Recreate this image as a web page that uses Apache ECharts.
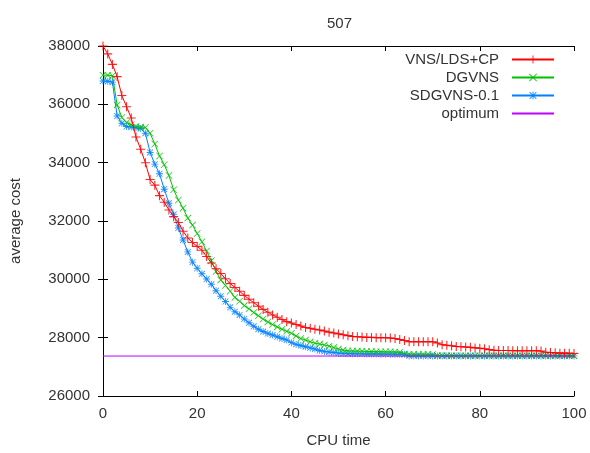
<!DOCTYPE html>
<html>
<head>
<meta charset="utf-8">
<script src="https://cdn.jsdelivr.net/npm/echarts@6/dist/echarts.min.js"></script>
<style>
  html, body { margin: 0; padding: 0; background: #fff; }
  #chart { width: 590px; height: 453px; }
</style>
</head>
<body>
<div id="chart"></div>
<script>
// data, one value per CPU time unit 0..100
var cpuTime = [];
for (var t = 0; t <= 100; t++) cpuTime.push(t);

var vnsLdsCp = [
  38000, 37730, 37370, 36950, 36300, 35920, 35530, 34880, 34460, 34000,
  33420, 33230, 32870, 32640, 32380, 32150, 31950, 31650, 31420, 31260,
  31130, 31000, 30780, 30560, 30360, 30200, 30020, 29860, 29720, 29590,
  29450, 29320, 29200, 29080, 28970, 28870, 28780, 28700, 28620, 28550,
  28500, 28450, 28400, 28350, 28320, 28290, 28260, 28230, 28190, 28160,
  28130, 28100, 28070, 28040, 28030, 28020, 28010, 28010, 28000, 28000,
  28000, 27990, 27970, 27940, 27900, 27860, 27860, 27860, 27860, 27860,
  27860, 27820, 27760, 27740, 27720, 27700, 27690, 27680, 27670, 27650,
  27640, 27620, 27590, 27570, 27560, 27560, 27560, 27555, 27550, 27550,
  27550, 27550, 27550, 27540, 27500, 27490, 27480, 27470, 27470, 27465,
  27460
];

var dgvns = [
  37000, 37000, 36980, 35980, 35550, 35380, 35300, 35240, 35220, 35210,
  35010, 34640, 34230, 33930, 33560, 33070, 32720, 32440, 32100, 31860,
  31570, 31290, 30970, 30640, 30270, 29980, 29790, 29590, 29380, 29250,
  29100, 28990, 28860, 28750, 28640, 28540, 28450, 28370, 28290, 28220,
  28150, 28060, 27970, 27920, 27860, 27810, 27780, 27750, 27710, 27660,
  27610, 27580, 27550, 27545, 27540, 27535, 27530, 27525, 27520, 27520,
  27515, 27515, 27510, 27500, 27440, 27435, 27435, 27430, 27430, 27430,
  27425, 27390, 27385, 27385, 27380, 27380, 27380, 27380, 27380, 27380,
  27380, 27380, 27380, 27380, 27380, 27380, 27380, 27380, 27380, 27380,
  27380, 27380, 27380, 27380, 27380, 27380, 27380, 27380, 27380, 27380,
  27380
];

var sdgvns01 = [
  36800, 36790, 36760, 35600, 35350, 35240, 35220, 35200, 35170, 35010,
  34350, 33950, 33620, 33090, 32610, 32220, 31760, 31350, 30940, 30590,
  30380, 30190, 30010, 29830, 29610, 29420, 29240, 29040, 28890, 28780,
  28640, 28510, 28390, 28290, 28210, 28140, 28090, 28030, 27970, 27920,
  27830, 27770, 27730, 27690, 27650, 27610, 27560, 27530, 27510, 27490,
  27470, 27460, 27450, 27450, 27445, 27445, 27440, 27440, 27440, 27435,
  27435, 27435, 27430, 27430, 27430, 27375, 27375, 27375, 27375, 27375,
  27375, 27375, 27375, 27375, 27375, 27375, 27375, 27375, 27375, 27375,
  27375, 27375, 27375, 27375, 27375, 27375, 27375, 27375, 27375, 27375,
  27375, 27375, 27375, 27375, 27375, 27375, 27375, 27375, 27375, 27375,
  27375
];

var optimumTime = [0, 100];
var optimumValue = [27370, 27370];

var seriesNames = ['VNS/LDS+CP', 'DGVNS', 'SDGVNS-0.1', 'optimum'];
var seriesColors = ['#ff0000', '#00c000', '#0080ff', '#c000ff'];

var yTicks = { min: 26000, max: 38000, step: 2000 };
var xTicks = { min: 0, max: 100, step: 20 };

// gnuplot style point glyphs
var plusPath = 'path://M0,4.4h10v1.2h-10zM4.4,0h1.2v10h-1.2z';
var crossPath = 'path://M0.8,0L10,9.2L9.2,10L0,0.8zM9.2,0L10,0.8L0.8,10L0,9.2z';
var starPath = 'path://M0,4.4h10v1.2h-10zM4.4,0h1.2v10h-1.2zM1.2,0.4L9.6,8.8L8.8,9.6L0.4,1.2zM8.8,0.4L9.6,1.2L1.2,9.6L0.4,8.8z';
// thin dash in a square box (tiny corner specks keep it from being stretched),
// so the optimum legend sample shows only its line
var dashPath = 'path://M0,0h0.01v0.01h-0.01zM0,4.6h10v0.8h-10zM9.99,9.99h0.01v0.01h-0.01z';

function pairs(xs, ys) {
  var out = [];
  for (var i = 0; i < xs.length; i++) out.push([xs[i], ys[i]]);
  return out;
}

var textColor = '#333';
var font = 'Liberation Sans';

function lineSeries(idx, values, symbol, size) {
  return {
    name: seriesNames[idx],
    type: 'line',
    data: pairs(cpuTime, values),
    symbol: symbol,
    symbolSize: size,
    showAllSymbol: true,
    silent: true,
    animation: false,
    lineStyle: { color: seriesColors[idx], width: 1 },
    itemStyle: { color: seriesColors[idx], opacity: 0.85 },
    z: 10 - idx
  };
}

function legendAt(idx, top) {
  return {
    data: [seriesNames[idx]],
    right: 35,
    top: top,
    orient: 'vertical',
    align: 'right',
    padding: 0,
    itemWidth: 42,
    itemHeight: 10,
    textStyle: { fontSize: 15, color: textColor, fontFamily: font, padding: [0, 8, 0, 0] }
  };
}

var chart = echarts.init(document.getElementById('chart'), null, { renderer: 'canvas' });

var option = {
  backgroundColor: '#ffffff',
  animation: false,
  title: {
    text: '507',
    left: 322,
    top: 11,
    textStyle: { fontSize: 15, fontWeight: 'normal', color: textColor, fontFamily: font }
  },
  legend: [legendAt(0, 52), legendAt(1, 70), legendAt(2, 88), legendAt(3, 106)],
  grid: { left: 103, right: 16, top: 46, bottom: 57, containLabel: false },
  xAxis: [{
    type: 'value',
    min: xTicks.min, max: xTicks.max, interval: xTicks.step,
    name: 'CPU time',
    nameLocation: 'middle',
    nameGap: 37,
    nameTextStyle: { fontSize: 15, color: textColor, fontFamily: font },
    axisLine: { lineStyle: { color: '#000', width: 1 } },
    axisTick: { inside: true, length: 5, lineStyle: { color: '#000' } },
    axisLabel: { fontSize: 15, color: textColor, fontFamily: font, margin: 10 },
    splitLine: { show: false }
  }, {
    type: 'value',
    position: 'top',
    min: xTicks.min, max: xTicks.max, interval: xTicks.step,
    axisLine: { lineStyle: { color: '#000', width: 1 } },
    axisTick: { inside: true, length: 5, lineStyle: { color: '#000' } },
    axisLabel: { show: false },
    splitLine: { show: false }
  }],
  yAxis: [{
    type: 'value',
    min: yTicks.min, max: yTicks.max, interval: yTicks.step,
    name: 'average cost',
    nameLocation: 'middle',
    nameGap: 80,
    nameTextStyle: { fontSize: 15, color: textColor, fontFamily: font },
    axisLine: { show: true, lineStyle: { color: '#000', width: 1 } },
    axisTick: { show: true, inside: true, length: 5, lineStyle: { color: '#000' } },
    axisLabel: {
      fontSize: 15, color: textColor, fontFamily: font, margin: 13,
      formatter: function (v) { return String(v); }
    },
    splitLine: { show: false }
  }, {
    type: 'value',
    position: 'right',
    min: yTicks.min, max: yTicks.max, interval: yTicks.step,
    axisLine: { show: true, lineStyle: { color: '#000', width: 1 } },
    axisTick: { show: true, inside: true, length: 5, lineStyle: { color: '#000' } },
    axisLabel: { show: false },
    splitLine: { show: false }
  }],
  series: [
    lineSeries(0, vnsLdsCp, plusPath, 9),
    lineSeries(1, dgvns, crossPath, 7),
    lineSeries(2, sdgvns01, starPath, 7),
    {
      name: seriesNames[3],
      type: 'line',
      data: pairs(optimumTime, optimumValue),
      symbol: dashPath,
      showSymbol: false,
      silent: true,
      lineStyle: { color: seriesColors[3], width: 1 },
      itemStyle: { color: seriesColors[3] },
      z: 20
    }
  ]
};

chart.setOption(option);
</script>
</body>
</html>
